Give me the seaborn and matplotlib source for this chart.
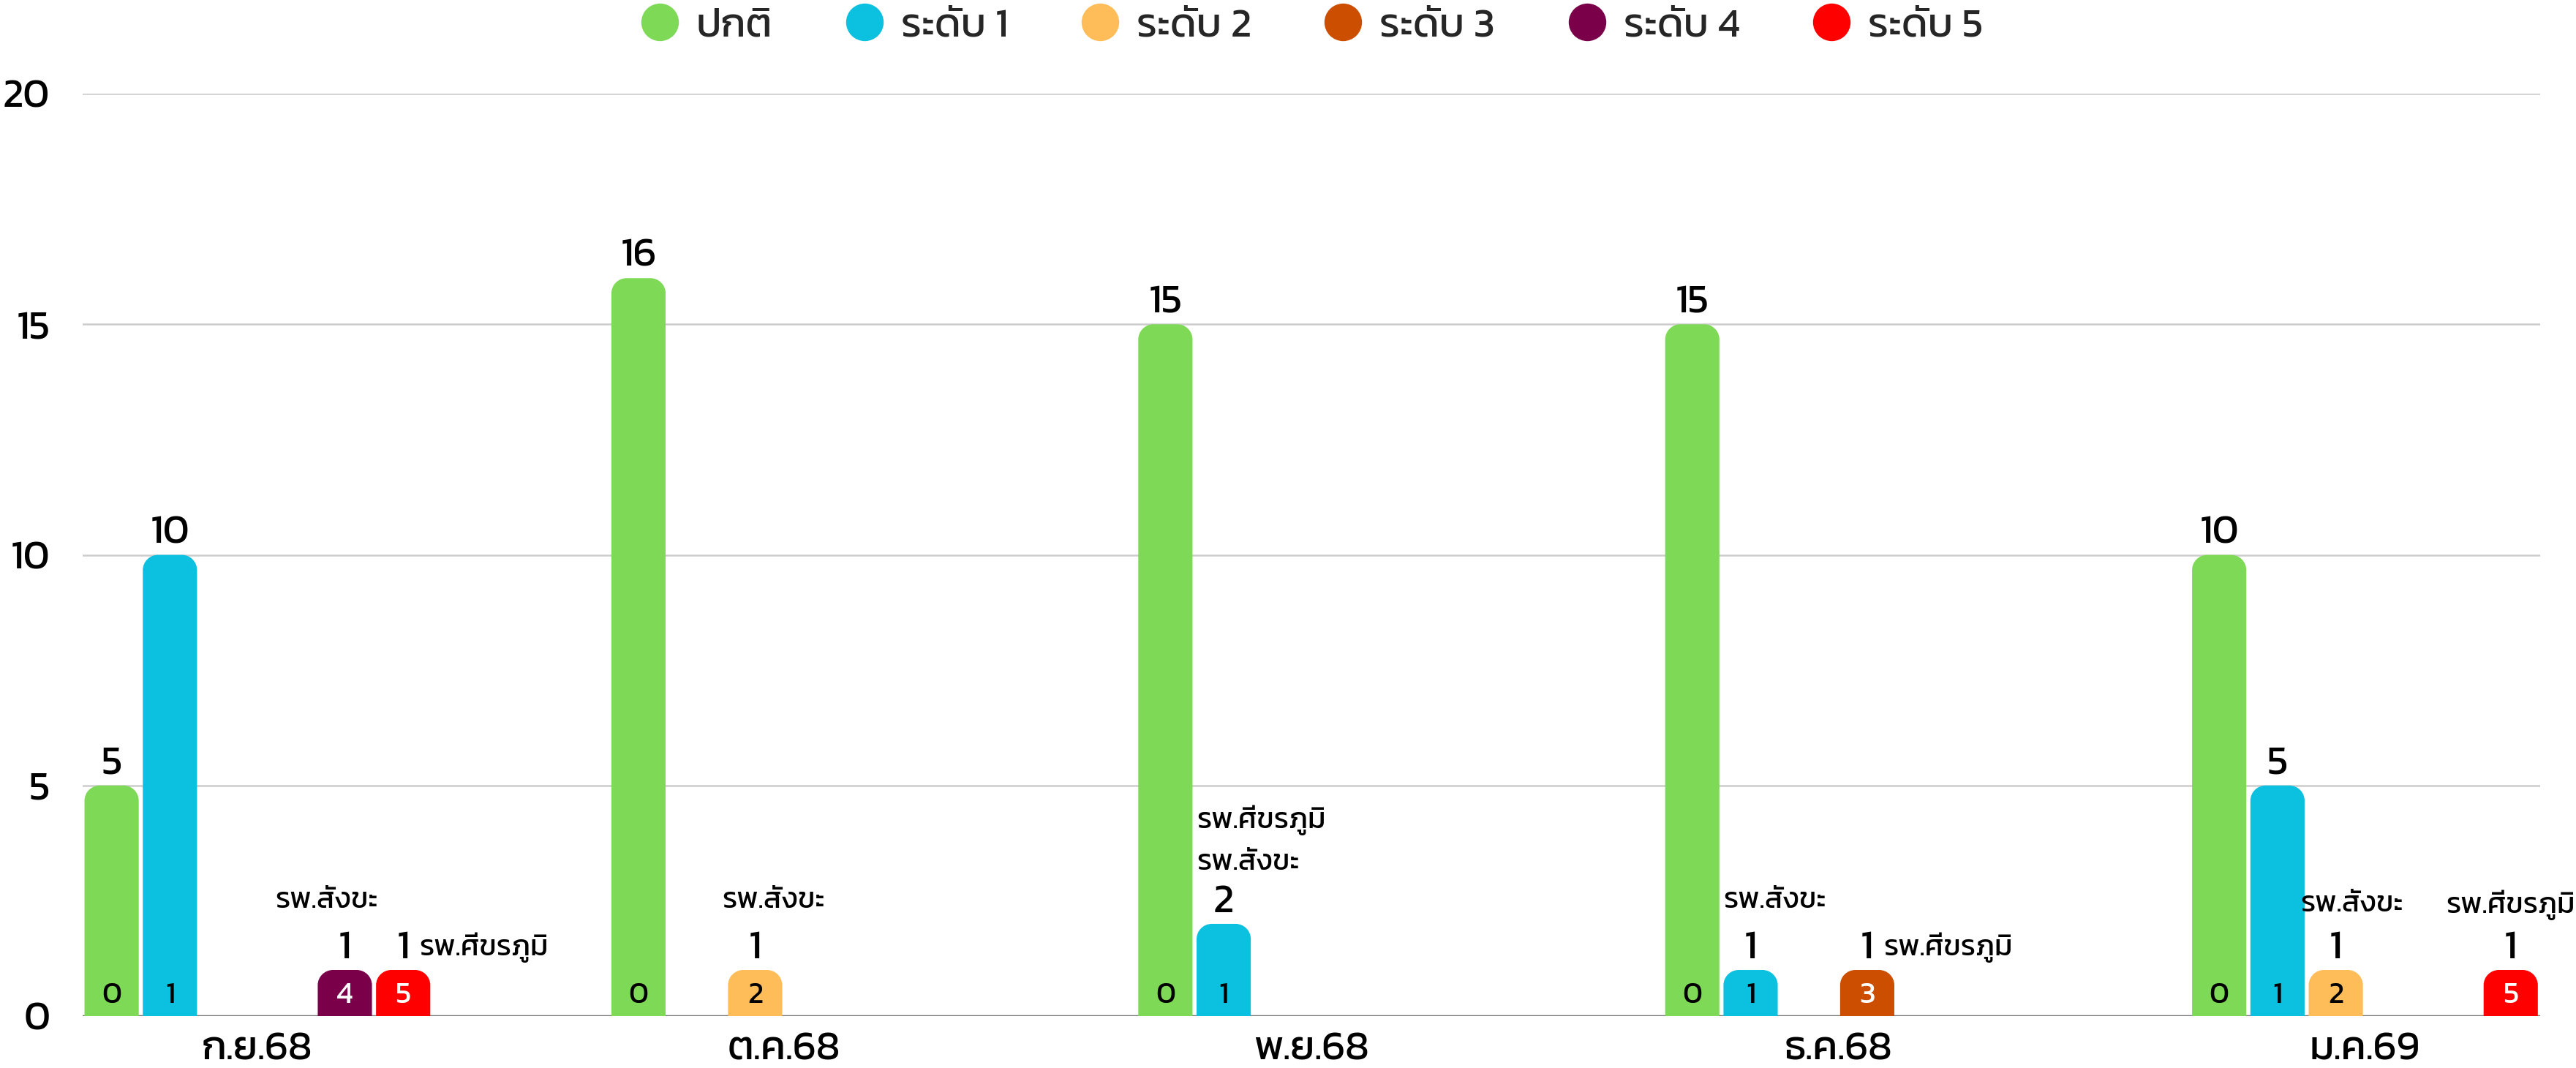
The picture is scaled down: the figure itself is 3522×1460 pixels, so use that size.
import pandas as pd
import seaborn as sns
import matplotlib
matplotlib.use('Agg')
import matplotlib.pyplot as plt
from matplotlib.path import Path
from matplotlib.patches import PathPatch

months = ['ก.ย.68', 'ต.ค.68', 'พ.ย.68', 'ธ.ค.68', 'ม.ค.69']
levels = ['ปกติ', 'ระดับ 1', 'ระดับ 2', 'ระดับ 3', 'ระดับ 4', 'ระดับ 5']
normal = [5, 16, 15, 15, 10]
level1 = [10, 0, 2, 1, 5]
level2 = [0, 1, 0, 0, 1]
level3 = [0, 0, 0, 1, 0]
level4 = [1, 0, 0, 0, 0]
level5 = [1, 0, 0, 0, 1]
level_colors = ['#7ED957', '#0CC0DF', '#FFBD59', '#CC4E00', '#7A004A', '#FF0000']
label_colors = ['black', 'black', 'black', 'white', 'white', 'white']

# hospital notes next to bars: (month, level, lines)
notes = [
    ('ก.ย.68', 'ระดับ 4', ['รพ.สังขะ']),
    ('ก.ย.68', 'ระดับ 5', ['รพ.ศีขรภูมิ']),
    ('ต.ค.68', 'ระดับ 2', ['รพ.สังขะ']),
    ('พ.ย.68', 'ระดับ 1', ['รพ.ศีขรภูมิ', 'รพ.สังขะ']),
    ('ธ.ค.68', 'ระดับ 1', ['รพ.สังขะ']),
    ('ธ.ค.68', 'ระดับ 3', ['รพ.ศีขรภูมิ']),
    ('ม.ค.69', 'ระดับ 2', ['รพ.สังขะ']),
    ('ม.ค.69', 'ระดับ 5', ['รพ.ศีขรภูมิ']),
]
# where each note sits: (anchor, horizontal align, dx pt, dy pt)
note_layout = [
    ('center', 'center', -18, 68),
    ('center', 'left', 16, 22),
    ('center', 'center', 18, 68),
    ('left', 'left', 0, 60),
    ('left', 'left', 0, 68),
    ('center', 'left', 16, 22),
    ('center', 'center', 16, 64),
    ('center', 'center', 0, 64),
]

sns.set_theme(style='white')
plt.rcParams['font.family'] = ['Kanit', 'DejaVu Sans']

df = pd.DataFrame({'month': months, levels[0]: normal, levels[1]: level1, levels[2]: level2,
                   levels[3]: level3, levels[4]: level4, levels[5]: level5})
long = df.melt(id_vars='month', var_name='level', value_name='count')

fig = plt.figure(figsize=(35.23, 14.6), dpi=100)
ax = fig.add_axes([0.032, 0.0486, 0.9537, 0.8637])
sns.barplot(data=long, x='month', y='count', hue='level', hue_order=levels, order=months,
            palette=level_colors, width=0.664, gap=0.07, saturation=1, ax=ax, legend=False, zorder=3)

ax.set_ylim(0, 20)
ax.set_xlim(-0.332, 4.332)
ax.set_yticks([0, 5, 10, 15, 20])
ax.yaxis.grid(True, color='#cccccc', linewidth=1.8, zorder=0)
ax.set_axisbelow(True)
ax.axhline(0, color='#777777', linewidth=2.5, zorder=2)
sns.despine(ax=ax, left=True, bottom=True)
ax.tick_params(axis='y', length=0, pad=32, labelsize=40, labelcolor='black')
ax.tick_params(axis='x', length=0, pad=16, labelsize=40, labelcolor='black')
ax.set_xlabel('')
ax.set_ylabel('')

# swap the flat bars for ones with rounded tops
k = 0.5523
bar_pos = {}
for i, cont in enumerate(ax.containers):
    for j, bar in enumerate(cont):
        x0, w, h = bar.get_x(), bar.get_width(), bar.get_height()
        bar.set_visible(False)
        bar_pos[(months[j], levels[i])] = (x0, w, h)
        if h <= 0:
            continue
        x1 = x0 + w
        rx = 0.28 * w
        ry = min(0.33, h)
        verts = [(x0, 0), (x0, h - ry), (x0, h - ry + k * ry), (x0 + rx - k * rx, h), (x0 + rx, h),
                 (x1 - rx, h), (x1 - rx + k * rx, h), (x1, h - ry + k * ry), (x1, h - ry),
                 (x1, 0), (x0, 0)]
        codes = [Path.MOVETO, Path.LINETO, Path.CURVE4, Path.CURVE4, Path.CURVE4,
                 Path.LINETO, Path.CURVE4, Path.CURVE4, Path.CURVE4, Path.LINETO, Path.CLOSEPOLY]
        ax.add_patch(PathPatch(Path(verts, codes), facecolor=level_colors[i], edgecolor='none', zorder=3))
        ax.annotate(str(int(h)), (x0 + w / 2, h), xytext=(0, 21), textcoords='offset points',
                    ha='center', va='center', fontsize=40, color='black', zorder=5)
        ax.annotate(str(i), (x0 + w / 2, 0), xytext=(0, 20), textcoords='offset points',
                    ha='center', va='center', fontsize=30, color=label_colors[i], zorder=5)

for (month, lvl, lines), (anchor, ha, dx, dy) in zip(notes, note_layout):
    x0, w, h = bar_pos[(month, lvl)]
    ax_x = x0 if anchor == 'left' else x0 + w / 2
    for n, line in enumerate(reversed(lines)):
        ax.annotate(line, (ax_x, h), xytext=(dx, dy + 42 * n), textcoords='offset points',
                    ha=ha, va='center', fontsize=29, color='black', annotation_clip=False)

handles = [plt.Line2D([], [], marker='o', linestyle='', markersize=37, markerfacecolor=c,
                      markeredgecolor='none') for c in level_colors]
ax.legend(handles, levels, loc='center', bbox_to_anchor=(0.5, 1.073), ncol=6, frameon=False,
          fontsize=40, handlelength=1.0, handletextpad=0.4, columnspacing=1.76)

fig.savefig('out.png', dpi=100)
